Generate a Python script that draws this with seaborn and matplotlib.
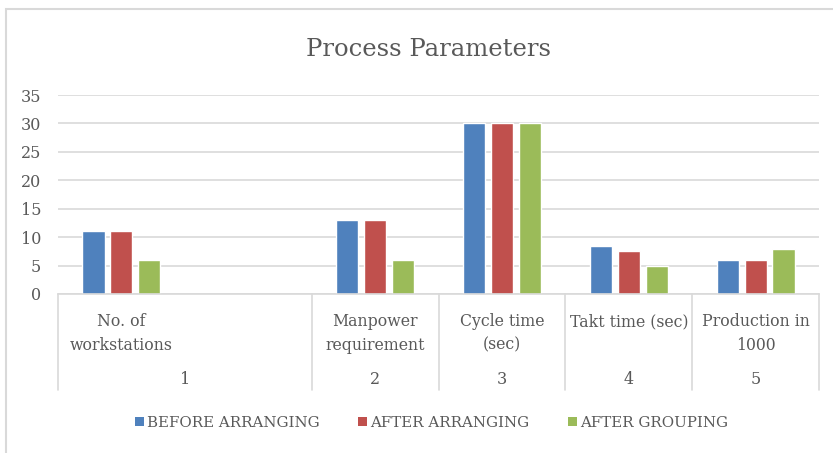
import matplotlib
matplotlib.use("Agg")
import matplotlib.pyplot as plt
import matplotlib.transforms as mtransforms
from matplotlib.lines import Line2D
from matplotlib.patches import Rectangle
import pandas as pd
import seaborn as sns

# Category labels (outer level is the running number)
categories = ["No. of\nworkstations", "Manpower\nrequirement", "Cycle time\n(sec)",
              "Takt time (sec)", "Production in\n1000"]
category_numbers = ["1", "2", "3", "4", "5"]
# the first category occupies two slots on the axis
category_spans = [2, 1, 1, 1, 1]

series = ["BEFORE ARRANGING", "AFTER ARRANGING", "AFTER GROUPING"]
before_arranging = [11, 13, 30, 8.5, 6]
after_arranging = [11, 13, 30, 7.5, 6]
after_grouping = [6, 6, 30, 5, 8]

y_ticks = [0, 5, 10, 15, 20, 25, 30, 35]
colors = ["#4F81BD", "#C0504D", "#9BBB59"]

# slot keys: each category starts at one slot, extra slots stay empty
slot_order = []
slot_start = []
for i, span in enumerate(category_spans):
    slot_start.append(len(slot_order))
    slot_order.append(f"c{i}")
    for k in range(1, span):
        slot_order.append(f"c{i}_{k}")

rows = []
for name, values in zip(series, [before_arranging, after_arranging, after_grouping]):
    for i, v in enumerate(values):
        rows.append({"slot": f"c{i}", "series": name, "value": v})
df = pd.DataFrame(rows)

sns.set_theme(style="white")
plt.rcParams["font.family"] = ["DejaVu Serif"]
text_color = "#595959"
grid_color = "#D9D9D9"

fig = plt.figure(figsize=(8.33, 4.53), dpi=100)
ax = fig.add_axes([58 / 833, 1 - 294 / 453, (819 - 58) / 833, (294 - 95) / 453])

sns.barplot(data=df, x="slot", y="value", hue="series", order=slot_order,
            hue_order=series, palette=colors, width=0.66, gap=0.21,
            saturation=1, legend=False, ax=ax)

ax.set_xlim(-0.5, len(slot_order) - 0.5)
ax.set_ylim(0, 35)
ax.set_yticks(y_ticks)
ax.set_yticklabels([str(t) for t in y_ticks], fontsize=11.5, color=text_color)
ax.tick_params(axis="y", length=0, pad=12)
ax.set_xticks([])
ax.set_xlabel("")
ax.set_ylabel("")
ax.yaxis.grid(True, color=grid_color, linewidth=1.2)
ax.set_axisbelow(True)
for s in ["top", "right", "left"]:
    ax.spines[s].set_visible(False)
ax.spines["bottom"].set_color(grid_color)
ax.spines["bottom"].set_linewidth(1.2)

# multi-level category axis
trans = mtransforms.blended_transform_factory(ax.transData, fig.transFigure)
bounds = [-0.5]
for s, span in zip(slot_start, category_spans):
    bounds.append(s + span - 0.5)
for b in bounds:
    ax.add_line(Line2D([b, b], [1 - 294 / 453, 1 - 390 / 453], transform=trans,
                       color=grid_color, linewidth=1.2, clip_on=False))
for s, span, label, num in zip(slot_start, category_spans, categories, category_numbers):
    ax.text(s, 1 - 313 / 453, label, transform=trans, ha="center", va="top",
            fontsize=11.3, color=text_color, linespacing=1.5, multialignment="center")
    ax.text(s + (span - 1) / 2, 1 - 379 / 453, num, transform=trans, ha="center",
            va="center", fontsize=11.5, color=text_color)

fig.text(0.514, 1 - 50 / 453, "Process Parameters", ha="center", va="center",
         fontsize=17.5, color=text_color)

handles = [Rectangle((0, 0), 1, 1, facecolor=c, edgecolor="none") for c in colors]
fig.legend(handles, series, loc="center", bbox_to_anchor=(0.518, 1 - 423 / 453),
           ncol=3, frameon=False, fontsize=10.8, handlelength=0.6, handleheight=0.6,
           handletextpad=0.2, columnspacing=2.6, labelcolor=text_color)

# chart frame
fig.add_artist(Rectangle((6 / 833, -0.1), 1.2, 1 - 9 / 453 + 0.1, transform=fig.transFigure,
                         fill=False, edgecolor=grid_color, linewidth=1.5))

fig.savefig("out.png", dpi=100, facecolor="white")
